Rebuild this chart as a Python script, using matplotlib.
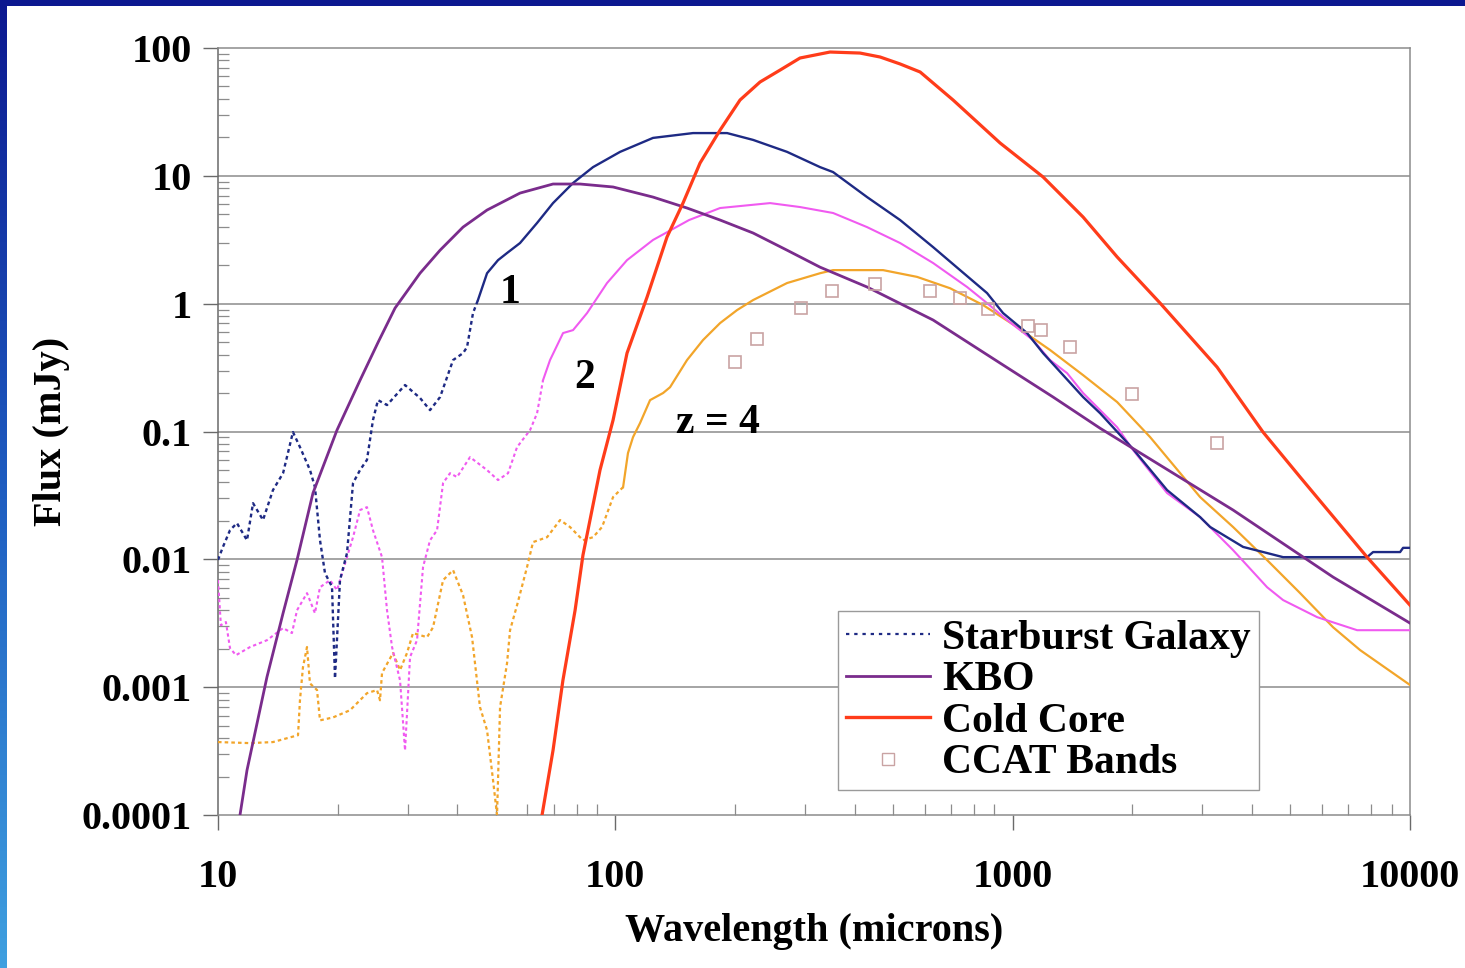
import numpy as np
import matplotlib
matplotlib.use("Agg")
import matplotlib.pyplot as plt
from matplotlib.ticker import FixedLocator, FixedFormatter, NullFormatter, LogLocator
from matplotlib.colors import LinearSegmentedColormap
from matplotlib.lines import Line2D

# ---------------- data ----------------
starburst_wl = [10.0, 10.29, 10.72, 11.16, 11.83, 12.25, 12.98, 13.75, 14.58, 15.44, 16.08, 17.04, 17.54,
                18.06, 18.59, 19.36, 19.70, 20.28, 21.12, 21.87, 22.78, 23.71, 24.55, 25.27, 26.63, 29.56,
                32.24, 34.17, 36.22, 39.05, 41.37, 42.34, 43.83, 45.12, 47.55, 50.67, 53.39, 57.56, 63.54,
                69.69, 78.27, 87.88, 102.8, 124.4, 156.9, 191.1, 222.2, 270.5, 327.5, 353.2, 430.1, 520.9,
                630.5, 737.3, 862.1, 945.8, 1087, 1193, 1504, 1660, 2010, 2447, 2963, 3141, 3802, 4369,
                4793, 7798, 8074, 9443, 9607, 10000]
starburst_flux = [0.0099, 0.0125, 0.0169, 0.0192, 0.0141, 0.0275, 0.0203, 0.0348, 0.0472, 0.099, 0.0755,
                  0.050, 0.0367, 0.0141, 0.0078, 0.0061, 0.00117, 0.0069, 0.0112, 0.0395, 0.050, 0.060,
                  0.123, 0.176, 0.161, 0.231, 0.183, 0.147, 0.186, 0.362, 0.41, 0.457, 0.844, 1.07, 1.73,
                  2.19, 2.49, 2.98, 4.28, 6.12, 8.79, 11.7, 15.4, 19.8, 21.6, 21.6, 19.1, 15.4, 11.7, 10.7,
                  6.82, 4.51, 2.77, 1.83, 1.21, 0.844, 0.589, 0.41, 0.186, 0.139, 0.0728, 0.0348, 0.0214,
                  0.0179, 0.0125, 0.0112, 0.0104, 0.0104, 0.0114, 0.0114, 0.0123, 0.0123]

z2_wl = [10.0, 10.17, 10.47, 10.72, 11.10, 12.04, 13.28, 14.58, 15.35, 15.81, 16.75, 17.54, 18.06, 19.14,
         19.93, 20.64, 21.87, 22.78, 23.71, 24.55, 25.87, 26.63, 27.42, 28.72, 29.56, 30.43, 31.69, 32.81,
         34.17, 35.59, 36.85, 38.37, 39.96, 43.08, 47.55, 50.67, 53.70, 56.58, 61.02, 63.54, 65.77, 68.49,
         73.86, 78.27, 84.88, 95.3, 107.0, 124.4, 153.3, 183.5, 245.2, 291.6, 353.2, 430.1, 520.9, 630.5,
         767.8, 862.1, 968, 1125, 1242, 1371, 1504, 1660, 1832, 2010, 2447, 2963, 3587, 4369, 4793, 5838,
         7362, 10000]
z2_flux = [0.00687, 0.00305, 0.00323, 0.00202, 0.00178, 0.00206, 0.00233, 0.0029, 0.00265, 0.0040, 0.00544,
           0.00379, 0.00605, 0.00687, 0.00574, 0.00823, 0.0149, 0.0243, 0.0256, 0.0169, 0.0104, 0.0040,
           0.00206, 0.00113, 0.00032, 0.00172, 0.00233, 0.0087, 0.0141, 0.0169, 0.0395, 0.0472, 0.044,
           0.063, 0.0499, 0.0417, 0.0472, 0.0755, 0.1026, 0.139, 0.252, 0.362, 0.589, 0.621, 0.844, 1.45,
           2.19, 3.15, 4.51, 5.60, 6.12, 5.70, 5.12, 3.97, 2.98, 2.08, 1.35, 1.01, 0.745, 0.519, 0.362,
           0.286, 0.200, 0.147, 0.108, 0.0715, 0.033, 0.0214, 0.0118, 0.00605, 0.0048, 0.00353, 0.00279,
           0.00279]

z4_wl = [10.0, 12.04, 13.75, 15.90, 16.08, 16.36, 16.75, 17.04, 17.75, 18.06, 19.48, 21.49, 23.71, 25.13,
         25.57, 25.87, 27.57, 28.72, 29.90, 30.96, 33.58, 34.77, 36.85, 39.05, 41.37, 43.59, 45.64, 47.55,
         49.23, 50.38, 51.27, 53.39, 54.33, 56.58, 59.95, 62.07, 67.33, 72.6, 76.9, 82.9, 87.9, 92.6, 98.7,
         104.6, 107.6, 110.8, 115.4, 122.3, 131.9, 137.3, 151.5, 166.2, 183.5, 202.5, 222.2, 270.5, 327.5,
         353.2, 471.9, 574.6, 695.8, 842.4, 1026, 1242, 1504, 1832, 2218, 2963, 3587, 4369, 5290, 6405,
         7489, 10000]
z4_flux = [3.72e-4, 3.65e-4, 3.72e-4, 4.21e-4, 7.9e-4, 1.43e-3, 2.06e-3, 1.07e-3, 9.5e-4, 5.5e-4, 5.8e-4,
           6.6e-4, 8.97e-4, 9.5e-4, 7.9e-4, 1.29e-3, 1.85e-3, 1.36e-3, 1.85e-3, 2.65e-3, 2.46e-3, 2.94e-3,
           6.87e-3, 8.23e-3, 5.25e-3, 2.46e-3, 6.98e-4, 4.6e-4, 1.87e-4, 1.0e-4, 6.98e-4, 1.54e-3, 2.79e-3,
           4.38e-3, 8.7e-3, 0.01364, 0.0149, 0.0203, 0.0179, 0.0141, 0.0149, 0.0179, 0.0307, 0.0367, 0.0678,
           0.0904, 0.1164, 0.176, 0.200, 0.222, 0.362, 0.519, 0.705, 0.891, 1.067, 1.45, 1.73, 1.83, 1.83,
           1.62, 1.32, 0.975, 0.656, 0.434, 0.276, 0.170, 0.0904, 0.0307, 0.0179, 0.00986, 0.00544,
           0.00294, 0.00195, 0.00104]

kbo_wl = [11.36, 11.83, 13.28, 14.58, 15.81, 17.34, 19.93, 22.78, 25.3, 27.9, 32.24, 36.22, 41.37, 47.55,
          57.56, 69.69, 81.5, 98.7, 124.4, 151.5, 183.5, 222.2, 270.5, 327.5, 430.1, 630.5, 929.6, 1264,
          1660, 3587, 6405, 10000]
kbo_flux = [1.0e-4, 2.24e-4, 1.20e-3, 3.79e-3, 0.0099, 0.033, 0.1026, 0.252, 0.50, 0.924, 1.73, 2.62, 3.97,
            5.40, 7.33, 8.63, 8.63, 8.18, 6.82, 5.60, 4.51, 3.57, 2.62, 1.93, 1.35, 0.745, 0.343, 0.186,
            0.106, 0.0243, 0.00726, 0.00317]

cold_wl = [65.4, 69.7, 73.8, 79.2, 82.9, 91.5, 98.7, 107.0, 120.2, 134.9, 148.0, 163.4, 183.5, 206, 231.3,
           260, 291.6, 347, 412.9, 464, 520.9, 585, 707.9, 929.6, 1193, 1504, 1832, 2350, 3269, 4266, 5290,
           7798, 10000]
cold_flux = [1.0e-4, 3.21e-4, 1.13e-3, 4.0e-3, 0.0108, 0.0499, 0.1228, 0.41, 1.127, 3.32, 6.12, 12.6, 22.8,
             39.2, 54.2, 67.3, 83.5, 93.0, 91.3, 85.0, 75.0, 64.9, 39.2, 18.07, 9.79, 4.76, 2.32, 1.01,
             0.319, 0.099, 0.044, 0.0104, 0.00438]

ccat_wl = [200, 227, 293, 350, 450, 620, 735, 865, 1095, 1180, 1395, 2000, 3270]
ccat_flux = [0.349, 0.528, 0.924, 1.256, 1.42, 1.256, 1.106, 0.907, 0.668, 0.621, 0.457, 0.196, 0.0811]

# wavelength below which the spectra are drawn dotted
starburst_dot_end = 45.12
z2_dot_end = 65.77
z4_dot_end = 104.6

y_ticks = [1e-4, 1e-3, 1e-2, 1e-1, 1, 10, 100]
y_tick_labels = ["0.0001", "0.001", "0.01", "0.1", "1", "10", "100"]
x_ticks = [10, 100, 1000, 10000]
x_tick_labels = ["10", "100", "1000", "10000"]

# ---------------- styling ----------------
SERIF = ["Liberation Serif", "DejaVu Serif"]
plt.rcParams["font.family"] = SERIF
plt.rcParams["font.weight"] = "bold"

C_NAVY = "#1E2A84"
C_PINK = "#F05AF0"
C_ORANGE = "#F2A52A"
C_KBO = "#7A2C8C"
C_COLD = "#FF3C1A"
C_CCAT = "#C9A3A3"
FS_TICK = 29
FS_LABEL = 29
FS_TEXT = 30

fig = plt.figure(figsize=(14.65, 9.68), dpi=100)
fig.patch.set_facecolor("white")

ax = fig.add_axes([218 / 1465, 1 - 815 / 968, (1410 - 218) / 1465, (815 - 48) / 968])
ax.set_xscale("log")
ax.set_yscale("log")
ax.set_xlim(10, 10000)
ax.set_ylim(1e-4, 100)


def split_plot(wl, fl, brk, color, lw):
    wl = np.asarray(wl, float)
    fl = np.asarray(fl, float)
    i = int(np.searchsorted(wl, brk)) + 1
    ax.plot(wl[:i], fl[:i], color=color, lw=lw, linestyle=(0, (1.6, 1.4)), zorder=3)
    ax.plot(wl[i - 1:], fl[i - 1:], color=color, lw=lw, linestyle="-", zorder=3)


split_plot(z4_wl, z4_flux, z4_dot_end, C_ORANGE, 1.6)
split_plot(z2_wl, z2_flux, z2_dot_end, C_PINK, 1.5)
split_plot(starburst_wl, starburst_flux, starburst_dot_end, C_NAVY, 1.7)
ax.plot(kbo_wl, kbo_flux, color=C_KBO, lw=2.0, zorder=4)
ax.plot(cold_wl, cold_flux, color=C_COLD, lw=2.3, zorder=4)
ax.plot(ccat_wl, ccat_flux, linestyle="none", marker="s", markersize=9, markerfacecolor="none",
        markeredgecolor=C_CCAT, markeredgewidth=1.2, zorder=5)

# grid and frame
for yv in y_ticks[1:-1]:
    ax.axhline(yv, color="#8c8c8c", lw=1.1, zorder=1)
for s in ax.spines.values():
    s.set_color("#8c8c8c")
    s.set_linewidth(1.1)
ax.spines["left"].set_color("#6a6a6a")

ax.yaxis.set_major_locator(FixedLocator(y_ticks))
ax.yaxis.set_major_formatter(FixedFormatter(y_tick_labels))
ax.xaxis.set_major_locator(FixedLocator(x_ticks))
ax.xaxis.set_major_formatter(FixedFormatter(x_tick_labels))
ax.xaxis.set_minor_locator(LogLocator(base=10, subs=np.arange(2, 10)))
ax.yaxis.set_minor_locator(LogLocator(base=10, subs=np.arange(2, 10)))
ax.xaxis.set_minor_formatter(NullFormatter())
ax.yaxis.set_minor_formatter(NullFormatter())
ax.tick_params(which="major", direction="out", length=11, width=1.0, color="#6a6a6a",
               labelsize=FS_TICK)
ax.tick_params(axis="y", which="major", pad=8)
ax.tick_params(axis="x", which="major", pad=21)
ax.tick_params(which="minor", direction="in", length=8, width=0.9, color="#8c8c8c")
for lab in ax.get_xticklabels() + ax.get_yticklabels():
    lab.set_fontweight("bold")

ax.set_xlabel("Wavelength (microns)", fontsize=FS_LABEL, fontweight="bold", labelpad=12)
ax.set_ylabel("Flux (mJy)", fontsize=FS_LABEL, fontweight="bold", labelpad=8)

# curve annotations
ax.text(54.3, 1.21, "1", fontsize=FS_TEXT, fontweight="bold", ha="center", va="center")
ax.text(83.9, 0.262, "2", fontsize=FS_TEXT, fontweight="bold", ha="center", va="center")
ax.text(181.4, 0.116, "z = 4", fontsize=FS_TEXT, fontweight="bold", ha="center", va="center")

# legend
handles = [
    Line2D([], [], color=C_NAVY, lw=1.6, linestyle=(0, (1.5, 2.2))),
    Line2D([], [], color=C_KBO, lw=2.0),
    Line2D([], [], color=C_COLD, lw=2.4),
    Line2D([], [], linestyle="none", marker="s", markersize=8, markerfacecolor="none",
           markeredgecolor=C_CCAT, markeredgewidth=1.0),
]
labels = ["Starburst Galaxy", "KBO", "Cold Core", "CCAT Bands"]
leg = ax.legend(handles, labels, loc="lower left", bbox_to_anchor=(0.520, 0.032),
                prop={"family": SERIF, "weight": "bold", "size": FS_TEXT}, frameon=True, fancybox=False,
                edgecolor="#9a9a9a", framealpha=1, borderpad=0.2, labelspacing=0.08,
                handlelength=2.0, handletextpad=0.3, borderaxespad=0)
leg.get_frame().set_linewidth(1.0)
leg.set_zorder(6)

# slide frame: top bar and left gradient bar
top = fig.add_axes([0, 1 - 6 / 968, 1, 6 / 968])
top.set_axis_off()
top.add_patch(plt.Rectangle((0, 0), 1, 1, transform=top.transAxes, color="#0C1890"))
left = fig.add_axes([0, 0, 7 / 1465, 1])
left.set_axis_off()
cmap = LinearSegmentedColormap.from_list("bar", ["#0C1890", "#1E5CC0", "#3FA0E0"])
left.imshow(np.linspace(0, 1, 256).reshape(-1, 1), aspect="auto", cmap=cmap, extent=(0, 1, 0, 1))

fig.savefig("out.png", dpi=100, facecolor="white")
